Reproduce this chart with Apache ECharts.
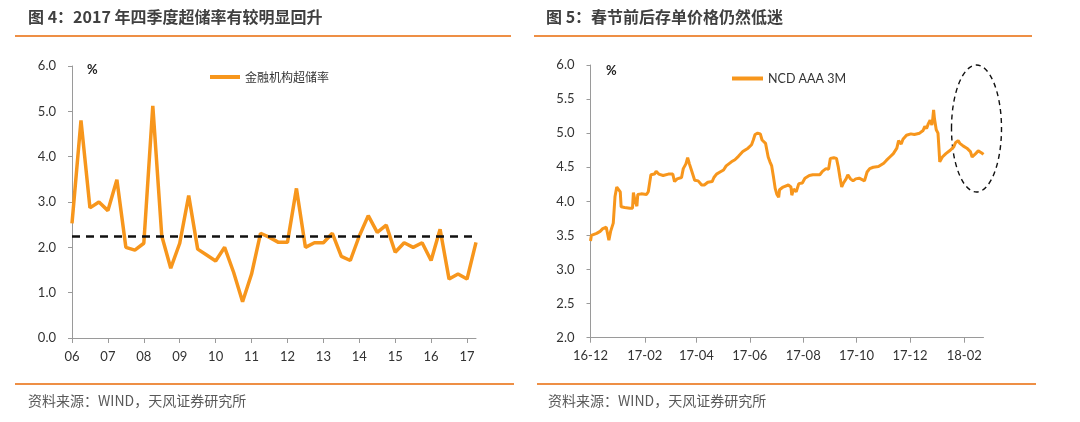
<!DOCTYPE html>
<html><head><meta charset="utf-8">
<script src="https://cdn.jsdelivr.net/npm/echarts@6/dist/echarts.min.js"></script>
<style>html,body{margin:0;padding:0;background:#fff}#c{width:1080px;height:422px}</style>
</head><body><div id="c"></div><script>
// ---------- Left chart data (quarterly, 2006Q1 - 2017Q2) ----------
const leftYears = ['06','07','08','09','10','11','12','13','14','15','16','17'];
const leftSeriesName = '金融机构超储率';
const reserveRatio = [2.53, 4.80, 2.87, 3.00, 2.81, 3.49, 2.00, 1.94, 2.09, 5.12,
                      2.25, 1.54, 2.09, 3.14, 1.96, 1.83, 1.70, 2.00, 1.45, 0.80,
                      1.41, 2.31, 2.22, 2.11, 2.11, 3.30, 2.00, 2.10, 2.10, 2.31,
                      1.80, 1.71, 2.25, 2.70, 2.33, 2.49, 1.89, 2.10, 2.00, 2.10,
                      1.71, 2.40, 1.30, 1.41, 1.30, 2.11];
const reserveAvg = 2.25;
const leftCategories = [];
leftYears.forEach(y => { for (let q = 1; q <= 4; q++) leftCategories.push(y + 'Q' + q); });
leftCategories.length = reserveRatio.length;

// ---------- Right chart data (NCD AAA 3M) ----------
const rightSeriesName = 'NCD AAA 3M';
const ncdDates = ['2016-12-01','2016-12-02','2016-12-08','2016-12-12','2016-12-15','2016-12-19','2016-12-22','2016-12-24','2016-12-27','2016-12-29',
  '2016-12-31','2017-01-02','2017-01-04','2017-01-05','2017-01-09','2017-01-15','2017-01-18','2017-01-19','2017-01-21','2017-01-23',
  '2017-01-24','2017-01-28','2017-02-03','2017-02-05','2017-02-08','2017-02-12','2017-02-14','2017-02-17','2017-02-22','2017-02-28',
  '2017-03-05','2017-03-07','2017-03-10','2017-03-15','2017-03-17','2017-03-20','2017-03-22','2017-03-24','2017-03-27','2017-03-30',
  '2017-04-03','2017-04-07','2017-04-10','2017-04-14','2017-04-19','2017-04-21','2017-04-24','2017-04-28','2017-05-02','2017-05-05',
  '2017-05-11','2017-05-15','2017-05-19','2017-05-21','2017-05-24','2017-05-30','2017-06-03','2017-06-05','2017-06-07','2017-06-10',
  '2017-06-13','2017-06-15','2017-06-19','2017-06-22','2017-06-24','2017-06-26','2017-06-28','2017-06-30','2017-07-02','2017-07-04',
  '2017-07-05','2017-07-09','2017-07-15','2017-07-18','2017-07-19','2017-07-21','2017-07-24','2017-07-27','2017-07-31','2017-08-03',
  '2017-08-05','2017-08-08','2017-08-12','2017-08-16','2017-08-20','2017-08-23','2017-08-27','2017-08-30','2017-09-01','2017-09-05',
  '2017-09-08','2017-09-10','2017-09-12','2017-09-14','2017-09-16','2017-09-19','2017-09-21','2017-09-24','2017-09-27','2017-09-30',
  '2017-10-04','2017-10-10','2017-10-13','2017-10-16','2017-10-20','2017-10-26','2017-11-01','2017-11-04','2017-11-08','2017-11-12',
  '2017-11-16','2017-11-18','2017-11-21','2017-11-23','2017-11-27','2017-12-02','2017-12-06','2017-12-08','2017-12-12','2017-12-16',
  '2017-12-18','2017-12-20','2017-12-22','2017-12-24','2017-12-26','2017-12-27','2017-12-28','2017-12-29','2017-12-31','2018-01-02',
  '2018-01-03','2018-01-04','2018-01-07','2018-01-11','2018-01-16','2018-01-20','2018-01-22','2018-01-25','2018-01-27','2018-01-31',
  '2018-02-04','2018-02-08','2018-02-10','2018-02-14','2018-02-17','2018-02-21','2018-02-23'];
const ncdValues = [3.42, 3.50, 3.53, 3.56, 3.60, 3.62, 3.43, 3.56, 3.68, 4.07,
  4.21, 4.21, 4.14, 3.92, 3.91, 3.90, 3.90, 4.13, 4.00, 3.93,
  4.10, 4.11, 4.10, 4.14, 4.39, 4.40, 4.44, 4.40, 4.38, 4.40,
  4.40, 4.29, 4.33, 4.35, 4.48, 4.55, 4.64, 4.55, 4.43, 4.31,
  4.30, 4.24, 4.24, 4.28, 4.29, 4.35, 4.40, 4.43, 4.46, 4.52,
  4.58, 4.61, 4.66, 4.64, 4.73, 4.78, 4.83, 4.90, 4.98, 5.00,
  4.99, 4.90, 4.85, 4.65, 4.58, 4.52, 4.36, 4.19, 4.10, 4.06,
  4.17, 4.21, 4.24, 4.21, 4.09, 4.18, 4.14, 4.26, 4.27, 4.34,
  4.35, 4.38, 4.39, 4.39, 4.39, 4.44, 4.48, 4.47, 4.63, 4.64,
  4.63, 4.51, 4.35, 4.21, 4.27, 4.33, 4.39, 4.33, 4.30, 4.33,
  4.34, 4.30, 4.43, 4.48, 4.50, 4.51, 4.56, 4.60, 4.65, 4.70,
  4.78, 4.89, 4.84, 4.91, 4.97, 4.99, 4.98, 4.96, 5.00, 5.04,
  5.10, 5.07, 5.14, 5.19, 5.12, 5.21, 5.34, 5.21, 5.05, 5.00,
  4.80, 4.58, 4.65, 4.70, 4.75, 4.80, 4.86, 4.89, 4.85, 4.81,
  4.78, 4.73, 4.65, 4.70, 4.74, 4.71, 4.69];
const rightTickDates = ['2016-12-01','2017-02-01','2017-04-01','2017-06-01','2017-08-01','2017-10-01','2017-12-01','2018-02-01'];
const rightTickLabels = ['16-12','17-02','17-04','17-06','17-08','17-10','17-12','18-02'];
const rightAxisMin = '2016-12-01';
const rightAxisMax = '2018-02-23';

// ---------- helpers ----------
const ts = s => { const p = s.split('-').map(Number); return Date.UTC(p[0], p[1] - 1, p[2]); };
const rightTickTs = rightTickDates.map(ts);
const ncdData = ncdDates.map((d, i) => [ts(d), ncdValues[i]]);
const nearestTickLabel = v => { let b = 0; rightTickTs.forEach((t, i) => { if (Math.abs(t - v) < Math.abs(rightTickTs[b] - v)) b = i; }); return rightTickLabels[b]; };

const ORANGE = '#F7961C';
const AXIS = '#9a9a9a';
const LABEL = { color: '#333', fontSize: 13, fontFamily: 'Lato, sans-serif' };
const CJK = '"Noto Sans CJK SC", sans-serif';

const chart = echarts.init(document.getElementById('c'), null, { renderer: 'canvas' });
chart.setOption({
  animation: false,
  backgroundColor: '#fff',
  grid: [
    { left: 72, top: 66, width: 404, height: 272 },
    { left: 590.5, top: 65, width: 393, height: 272.7 }
  ],
  legend: [
    { data: [leftSeriesName], left: 205, top: 66, icon: 'rect', itemWidth: 30, itemHeight: 4, itemGap: 5,
      textStyle: { color: '#333', fontSize: 12, fontFamily: CJK } },
    { data: [rightSeriesName], left: 727, top: 67, icon: 'rect', itemWidth: 31, itemHeight: 4, itemGap: 4,
      textStyle: { color: '#333', fontSize: 12.5, fontFamily: 'Lato, sans-serif' } }
  ],
  xAxis: [
    { type: 'category', gridIndex: 0, data: leftCategories, boundaryGap: false,
      axisLine: { lineStyle: { color: AXIS, width: 1 } },
      axisTick: { interval: 3, length: 5, lineStyle: { color: AXIS } },
      axisLabel: Object.assign({ interval: 3, margin: 12, formatter: v => v.slice(0, 2) }, LABEL),
      splitLine: { show: false } },
    { type: 'value', gridIndex: 1, min: ts(rightAxisMin), max: ts(rightAxisMax), scale: true,
      axisLine: { show: true, onZero: false, lineStyle: { color: AXIS, width: 1 } },
      axisTick: { show: true, customValues: rightTickTs, length: 5, lineStyle: { color: AXIS } },
      axisLabel: Object.assign({ customValues: rightTickTs, margin: 12, formatter: nearestTickLabel }, LABEL),
      splitLine: { show: false } }
  ],
  yAxis: [
    { type: 'value', gridIndex: 0, min: 0, max: 6, interval: 1,
      axisLine: { show: true, lineStyle: { color: AXIS, width: 1 } },
      axisTick: { show: true, length: 4, lineStyle: { color: AXIS } },
      axisLabel: Object.assign({ margin: 16, formatter: v => v.toFixed(1) }, LABEL),
      splitLine: { show: false } },
    { type: 'value', gridIndex: 1, min: 2, max: 6, interval: 0.5,
      axisLine: { show: true, onZero: false, lineStyle: { color: AXIS, width: 1 } },
      axisTick: { show: true, length: 4, lineStyle: { color: AXIS } },
      axisLabel: Object.assign({ margin: 16, formatter: v => v.toFixed(1) }, LABEL),
      splitLine: { show: false } }
  ],
  series: [
    { name: leftSeriesName, type: 'line', xAxisIndex: 0, yAxisIndex: 0, data: reserveRatio,
      showSymbol: false, symbol: 'none', lineStyle: { color: ORANGE, width: 3.5 }, itemStyle: { color: ORANGE },
      markLine: { silent: true, symbol: 'none', label: { show: false },
        lineStyle: { color: '#111', width: 2.5, type: [8, 6] },
        data: [ { yAxis: reserveAvg } ] } },
    { name: rightSeriesName, type: 'line', xAxisIndex: 1, yAxisIndex: 1, data: ncdData,
      showSymbol: false, symbol: 'none', lineStyle: { color: ORANGE, width: 3 }, itemStyle: { color: ORANGE } }
  ],
  graphic: [
    { type: 'text', left: 28, top: 9, style: { text: '图 4：2017 年四季度超储率有较明显回升', fill: '#404040', font: 'bold 16px ' + CJK } },
    { type: 'text', left: 546, top: 9, style: { text: '图 5：春节前后存单价格仍然低迷', fill: '#404040', font: 'bold 16px ' + CJK } },
    { type: 'line', shape: { x1: 15, y1: 36, x2: 511, y2: 36 }, style: { stroke: '#EE8F45', lineWidth: 2 } },
    { type: 'line', shape: { x1: 534, y1: 36, x2: 1032, y2: 36 }, style: { stroke: '#EE8F45', lineWidth: 2 } },
    { type: 'line', shape: { x1: 15, y1: 384, x2: 514, y2: 384 }, style: { stroke: '#EE8F45', lineWidth: 2 } },
    { type: 'line', shape: { x1: 537, y1: 384, x2: 1036, y2: 384 }, style: { stroke: '#EE8F45', lineWidth: 2 } },
    { type: 'text', left: 28, top: 394, style: { text: '资料来源：WIND，天风证券研究所', fill: '#595959', font: '14px ' + CJK } },
    { type: 'text', left: 548, top: 394, style: { text: '资料来源：WIND，天风证券研究所', fill: '#595959', font: '14px ' + CJK } },
    { type: 'text', left: 87, top: 63, style: { text: '%', fill: '#222', font: 'bold 13px Lato, sans-serif' } },
    { type: 'text', left: 606, top: 64, style: { text: '%', fill: '#222', font: 'bold 13px Lato, sans-serif' } },
    { type: 'ellipse', shape: { cx: 976.5, cy: 128.5, rx: 25, ry: 63.5 },
      style: { fill: 'none', stroke: '#111', lineWidth: 1.4, lineDash: [5, 4] } }
  ]
});
</script></body></html>
